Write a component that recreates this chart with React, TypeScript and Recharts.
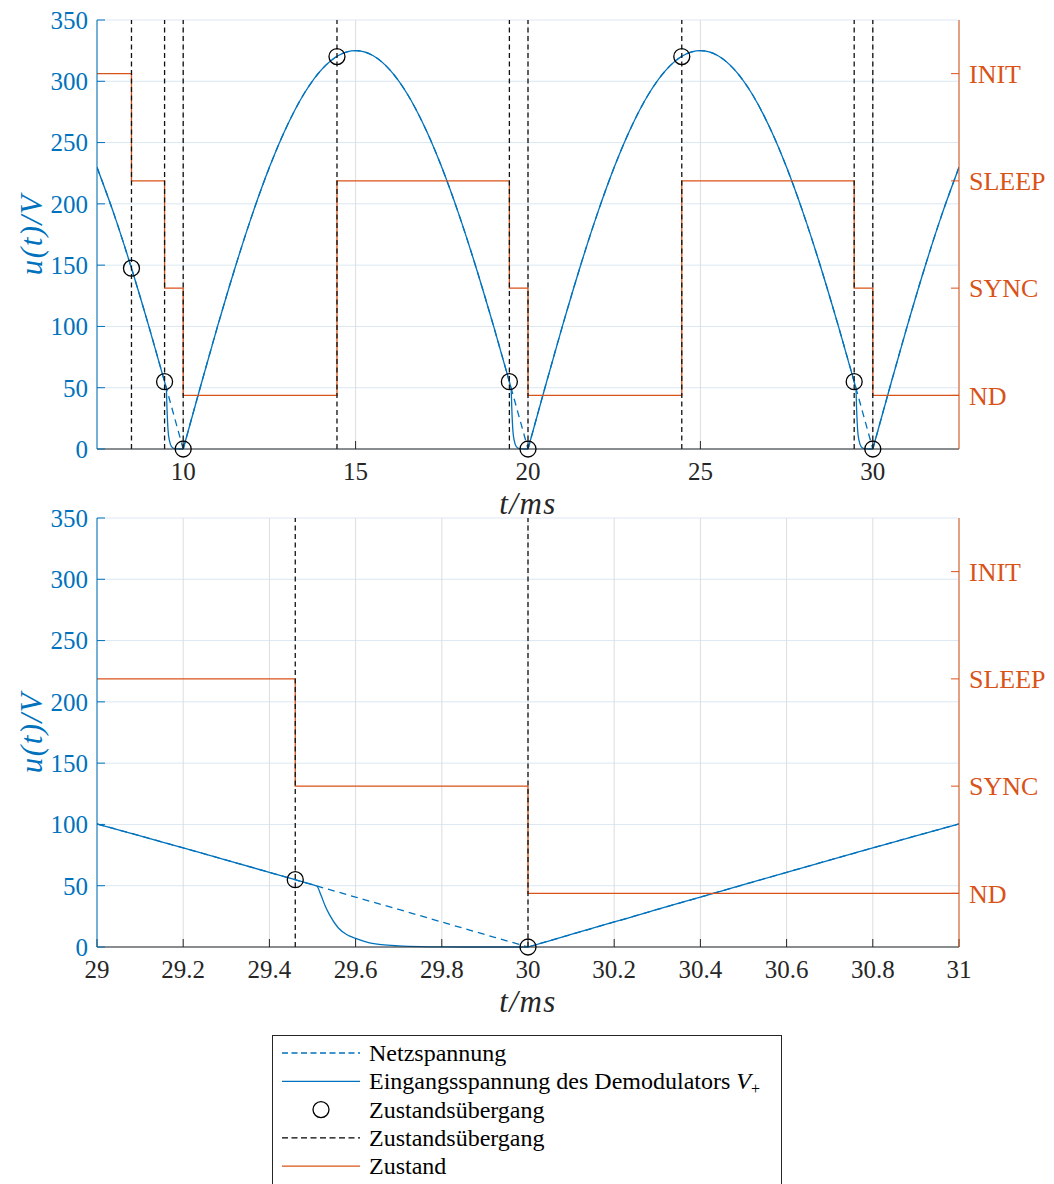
import React from "react";
import {
  CartesianGrid,
  ComposedChart,
  Line,
  ReferenceLine,
  Scatter,
  XAxis,
  YAxis,
} from "recharts";

const BLUE = "#0072BD";
const ORANGE = "#D95319";
const INK = "#262626";
const FONT = '"Liberation Serif", "DejaVu Serif", serif';

const voltTicks = [0, 50, 100, 150, 200, 250, 300, 350];
const stateTicks = [1, 2, 3, 4];
const stateNames = ["ND", "SYNC", "SLEEP", "INIT"];

// upper panel, 7.5 .. 32.5 ms
const topTicks = [10, 15, 20, 25, 30];
const topBreaks = [7.5, 10, 20, 30, 32.5];
const netzTimeTop = [
  7.5, 8, 8.5, 9, 9.5, 10, 10.5, 11, 11.5, 12, 12.5, 13, 13.5, 14, 14.5, 15,
  15.5, 16, 16.5, 17, 17.5, 18, 18.5, 19, 19.5, 20, 20.5, 21, 21.5, 22, 22.5,
  23, 23.5, 24, 24.5, 25, 25.5, 26, 26.5, 27, 27.5, 28, 28.5, 29, 29.5, 30,
  30.5, 31, 31.5, 32, 32.5,
];
const netzVoltTop = [
  229.8, 191.0, 147.5, 100.4, 50.8, 0, 50.8, 100.4, 147.5, 191.0, 229.8, 262.9,
  289.6, 309.1, 321.0, 325.0, 321.0, 309.1, 289.6, 262.9, 229.8, 191.0, 147.5,
  100.4, 50.8, 0, 50.8, 100.4, 147.5, 191.0, 229.8, 262.9, 289.6, 309.1, 321.0,
  325.0, 321.0, 309.1, 289.6, 262.9, 229.8, 191.0, 147.5, 100.4, 50.8, 0, 50.8,
  100.4, 147.5, 191.0, 229.8,
];
const inputTimeTop = [
  7.5, 8, 8.5, 9, 9.5, 9.51, 9.53, 9.56, 9.6, 9.66, 9.75, 9.9, 10,
  10.5, 11, 11.5, 12, 12.5, 13, 13.5, 14, 14.5, 15, 15.5, 16, 16.5, 17, 17.5,
  18, 18.5, 19, 19.5, 19.51, 19.53, 19.56, 19.6, 19.66, 19.75, 19.9, 20,
  20.5, 21, 21.5, 22, 22.5, 23, 23.5, 24, 24.5, 25, 25.5, 26, 26.5, 27, 27.5,
  28, 28.5, 29, 29.5, 29.51, 29.53, 29.56, 29.6, 29.66, 29.75, 29.9, 30,
  30.5, 31, 31.5, 32, 32.5,
];
const inputVoltTop = [
  229.8, 191.0, 147.5, 100.4, 50.8, 49.8, 33, 15.5, 7, 2, 0.3, 0, 0,
  50.8, 100.4, 147.5, 191.0, 229.8, 262.9, 289.6, 309.1, 321.0, 325.0, 321.0,
  309.1, 289.6, 262.9, 229.8, 191.0, 147.5, 100.4, 50.8, 49.8, 33, 15.5, 7, 2,
  0.3, 0, 0,
  50.8, 100.4, 147.5, 191.0, 229.8, 262.9, 289.6, 309.1, 321.0, 325.0, 321.0,
  309.1, 289.6, 262.9, 229.8, 191.0, 147.5, 100.4, 50.8, 49.8, 33, 15.5, 7, 2,
  0.3, 0, 0,
  50.8, 100.4, 147.5, 191.0, 229.8,
];
const markTimeTop = [8.5, 9.46, 10, 14.46, 19.46, 20, 24.46, 29.46, 30];
const markVoltTop = [147.5, 54.9, 0, 320.2, 54.9, 0, 320.2, 54.9, 0];
const stateTimeTop = [7.5, 8.5, 9.46, 10, 14.46, 19.46, 20, 24.46, 29.46, 30, 32.5];
const stateTop = [4, 3, 2, 1, 3, 2, 1, 3, 2, 1, 1];

// lower panel, 29 .. 31 ms
const bottomTicks = [29, 29.2, 29.4, 29.6, 29.8, 30, 30.2, 30.4, 30.6, 30.8, 31];
const bottomBreaks = [29, 30, 31];
const netzTimeBottom = [
  29, 29.1, 29.2, 29.3, 29.4, 29.5, 29.6, 29.7, 29.8, 29.9, 30, 30.1, 30.2,
  30.3, 30.4, 30.5, 30.6, 30.7, 30.8, 30.9, 31,
];
const netzVoltBottom = [
  100.4, 90.7, 80.8, 70.9, 60.9, 50.8, 40.7, 30.6, 20.4, 10.2, 0, 10.2, 20.4,
  30.6, 40.7, 50.8, 60.9, 70.9, 80.8, 90.7, 100.4,
];
const inputTimeBottom = [
  29, 29.1, 29.2, 29.3, 29.4, 29.5, 29.51, 29.52, 29.53, 29.54, 29.56, 29.58,
  29.6, 29.63, 29.66, 29.7, 29.75, 29.8, 29.9, 30, 30.1, 30.2, 30.3, 30.4,
  30.5, 30.6, 30.7, 30.8, 30.9, 31,
];
const inputVoltBottom = [
  100.4, 90.7, 80.8, 70.9, 60.9, 50.8, 49.8, 42, 33, 26, 15.5, 10, 7, 3.6, 1.9,
  0.9, 0.3, 0.1, 0, 0, 10.2, 20.4, 30.6, 40.7, 50.8, 60.9, 70.9, 80.8, 90.7,
  100.4,
];
const markTimeBottom = [29.46, 30];
const markVoltBottom = [54.9, 0];
const stateTimeBottom = [29, 29.46, 30, 31];
const stateBottom = [3, 2, 1, 1];

const zip = (ts: number[], vs: number[], key: string) =>
  ts.map((t, i) => ({ t, [key]: vs[i] }));

// cut a curve into half-waves so the cusps at the zero crossings stay sharp
const split = (rows: { t: number }[], breaks: number[]) =>
  breaks.slice(1).map((b, i) => rows.filter((r) => r.t >= breaks[i] && r.t <= b));

const Ring = (p: any) =>
  p.cx == null ? null : (
    <circle cx={p.cx} cy={p.cy} r={8} fill="none" stroke="#000" strokeWidth={1.3} />
  );

type PanelProps = {
  domain: [number, number];
  ticks: number[];
  breaks: number[];
  netz: any[];
  input: any[];
  marks: any[];
  transitions: number[];
  states: any[];
};

function Panel({ domain, ticks, breaks, netz, input, marks, transitions, states }: PanelProps) {
  return (
    <ComposedChart
      width={1054}
      height={520}
      margin={{ top: 20, right: 0, bottom: 0, left: 0 }}
      style={{ fontFamily: FONT }}
    >
      <CartesianGrid yAxisId="left" vertical={false} stroke="#dbe7f2" strokeWidth={1} />
      <CartesianGrid yAxisId="left" horizontal={false} stroke="#dddddd" strokeWidth={1} />
      <XAxis
        xAxisId="top"
        orientation="top"
        type="number"
        domain={domain}
        ticks={ticks}
        allowDataOverflow
        height={0}
        stroke={INK}
        tickSize={-8}
        tickFormatter={() => ""}
      />
      <XAxis
        dataKey="t"
        type="number"
        domain={domain}
        ticks={ticks}
        allowDataOverflow
        height={71}
        stroke={INK}
        tickSize={-8}
        tickMargin={21}
        tick={{ fill: INK, fontSize: 25, fontFamily: FONT }}
        tickFormatter={(v: number) => String(Math.round(v * 10) / 10)}
        label={{
          content: (p: any) => {
            const vb = p.viewBox || { x: 97, y: 449, width: 862 };
            return (
              <text
                x={vb.x + vb.width / 2}
                y={vb.y + 65}
                textAnchor="middle"
                fontSize={31}
                fontStyle="italic"
                fontFamily={FONT}
                fill={INK}
                letterSpacing={1.5}
              >
                t/ms
              </text>
            );
          },
        }}
      />
      <YAxis
        yAxisId="left"
        type="number"
        domain={[0, 350]}
        ticks={voltTicks}
        width={97}
        stroke={BLUE}
        tickSize={-8}
        tickMargin={17}
        tick={{ fill: BLUE, fontSize: 25, fontFamily: FONT }}
        label={{
          content: (p: any) => {
            const vb = p.viewBox || { y: 20, height: 429 };
            const cy = vb.y + vb.height / 2;
            return (
              <text
                x={31}
                y={cy}
                transform={`rotate(-90 31 ${cy})`}
                textAnchor="middle"
                dominantBaseline="central"
                fontSize={31}
                fontStyle="italic"
                fontFamily={FONT}
                fill={BLUE}
                letterSpacing={1.5}
              >
                u(t)/V
              </text>
            );
          },
        }}
      />
      <YAxis
        yAxisId="right"
        orientation="right"
        type="number"
        domain={[0.5, 4.5]}
        ticks={stateTicks}
        width={95}
        stroke={ORANGE}
        tickSize={-8}
        tickMargin={18}
        tick={{ fill: ORANGE, fontSize: 26, fontFamily: FONT }}
        tickFormatter={(v: number) => stateNames[v - 1]}
      />
      {split(netz, breaks).map((seg, i) => (
        <Line
          key={`n${i}`}
          data={seg}
          yAxisId="left"
          dataKey="u"
          type="monotone"
          stroke={BLUE}
          strokeWidth={1.3}
          strokeDasharray="7 5"
          dot={false}
          activeDot={false}
          isAnimationActive={false}
        />
      ))}
      {split(input, breaks).map((seg, i) => (
        <Line
          key={`i${i}`}
          data={seg}
          yAxisId="left"
          dataKey="u"
          type="monotone"
          stroke={BLUE}
          strokeWidth={1.3}
          dot={false}
          activeDot={false}
          isAnimationActive={false}
        />
      ))}
      <Line
        data={states}
        yAxisId="right"
        dataKey="s"
        type="stepAfter"
        stroke={ORANGE}
        strokeWidth={1.3}
        dot={false}
        activeDot={false}
        isAnimationActive={false}
      />
      {transitions.map((t) => (
        <ReferenceLine
          key={t}
          x={t}
          yAxisId="left"
          stroke="#111"
          strokeWidth={1.3}
          strokeDasharray="5 3.5"
        />
      ))}
      <Scatter
        data={marks}
        yAxisId="left"
        dataKey="u"
        shape={Ring}
        isAnimationActive={false}
      />
    </ComposedChart>
  );
}

function LegendBox() {
  const rows = [0, 1, 2, 3, 4].map((i) => 18 + i * 28.3);
  const labels = ["Netzspannung", "", "Zustandsübergang", "Zustandsübergang", "Zustand"];
  return (
    <svg
      width={511}
      height={150}
      style={{ position: "absolute", left: 272, top: 1035, fontFamily: FONT }}
    >
      <rect x={0.5} y={0.5} width={509} height={170} fill="#fff" stroke={INK} strokeWidth={1} />
      <line x1={10} x2={88} y1={rows[0]} y2={rows[0]} stroke={BLUE} strokeWidth={1.3} strokeDasharray="6 3.5" />
      <line x1={10} x2={88} y1={rows[1]} y2={rows[1]} stroke={BLUE} strokeWidth={1.3} />
      <circle cx={49} cy={rows[2]} r={8} fill="none" stroke="#000" strokeWidth={1.3} />
      <line x1={10} x2={88} y1={rows[3]} y2={rows[3]} stroke="#000" strokeWidth={1.3} strokeDasharray="6 3.5" />
      <line x1={10} x2={88} y1={rows[4]} y2={rows[4]} stroke={ORANGE} strokeWidth={1.3} />
      {labels.map((l, i) =>
        i === 1 ? (
          <text key={i} x={97} y={rows[i] + 8} fontSize={24} fill="#000" fontFamily={FONT}>
            Eingangsspannung des Demodulators{" "}
            <tspan fontStyle="italic">V</tspan>
            <tspan fontSize={16} dy={5}>+</tspan>
          </text>
        ) : (
          <text key={i} x={97} y={rows[i] + 8} fontSize={24} fill="#000" fontFamily={FONT}>
            {l}
          </text>
        )
      )}
    </svg>
  );
}

export default function App() {
  return (
    <div
      style={{
        position: "absolute",
        left: 0,
        top: 0,
        width: 1054,
        height: 1184,
        overflow: "hidden",
        background: "#fff",
        fontFamily: FONT,
      }}
    >
      <div style={{ position: "absolute", left: 0, top: 0 }}>
        <Panel
          domain={[7.5, 32.5]}
          ticks={topTicks}
          breaks={topBreaks}
          netz={zip(netzTimeTop, netzVoltTop, "u")}
          input={zip(inputTimeTop, inputVoltTop, "u")}
          marks={zip(markTimeTop, markVoltTop, "u")}
          transitions={markTimeTop}
          states={zip(stateTimeTop, stateTop, "s")}
        />
      </div>
      <div style={{ position: "absolute", left: 0, top: 498 }}>
        <Panel
          domain={[29, 31]}
          ticks={bottomTicks}
          breaks={bottomBreaks}
          netz={zip(netzTimeBottom, netzVoltBottom, "u")}
          input={zip(inputTimeBottom, inputVoltBottom, "u")}
          marks={zip(markTimeBottom, markVoltBottom, "u")}
          transitions={markTimeBottom}
          states={zip(stateTimeBottom, stateBottom, "s")}
        />
      </div>
      <LegendBox />
    </div>
  );
}
